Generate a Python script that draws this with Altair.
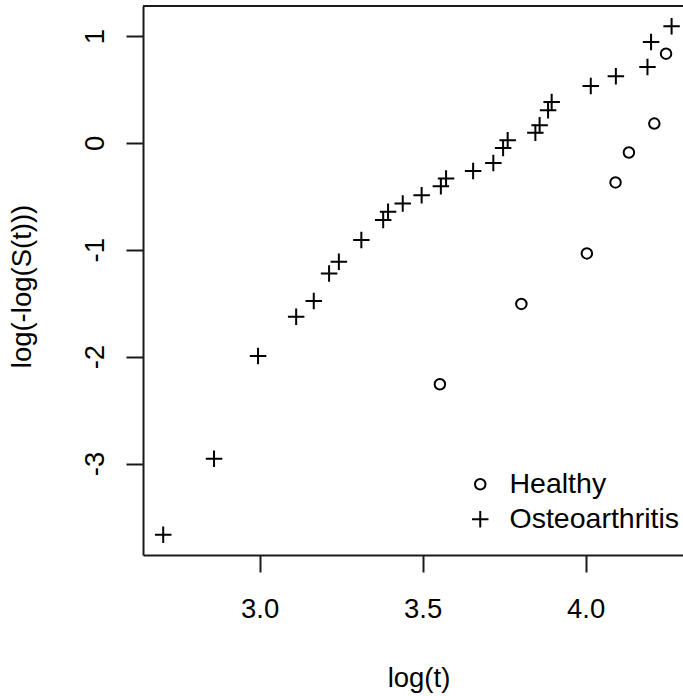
import altair as alt
import pandas as pd

# ---- data ----
groups = ["Healthy", "Osteoarthritis"]

healthy_logt = [3.553, 3.803, 4.004, 4.092, 4.133, 4.211, 4.247]
healthy_loglog = [-2.258, -1.507, -1.034, -0.370, -0.090, 0.181, 0.835]

oa_logt = [2.704, 2.860, 2.995, 3.112, 3.166, 3.213, 3.243, 3.312, 3.379,
           3.394, 3.439, 3.497, 3.556, 3.572, 3.655, 3.717, 3.747, 3.761,
           3.846, 3.859, 3.885, 3.896, 4.016, 4.093, 4.190, 4.201, 4.264]
oa_loglog = [-3.666, -2.956, -1.993, -1.626, -1.479, -1.221, -1.112, -0.909,
             -0.722, -0.645, -0.566, -0.489, -0.405, -0.333, -0.264, -0.187,
             -0.047, 0.025, 0.094, 0.166, 0.306, 0.383, 0.533, 0.623, 0.710,
             0.944, 1.091]

x_ticks = [3.0, 3.5, 4.0]
y_ticks = [-3, -2, -1, 0, 1]

df = pd.concat([
    pd.DataFrame({"logt": healthy_logt, "loglog": healthy_loglog, "group": groups[0]}),
    pd.DataFrame({"logt": oa_logt, "loglog": oa_loglog, "group": groups[1]}),
], ignore_index=True)

FONT = "Liberation Sans"
FS = 27.5
INK = "#1a1a1a"
PLUS = "M-1,0L1,0M0,-1L0,1"

x_scale = alt.Scale(domain=[2.642, 4.299], nice=False, zero=False)
y_scale = alt.Scale(domain=[-3.856, 1.281], nice=False, zero=False)

legend = alt.Legend(
    title=None, orient="none", legendX=323, legendY=464,
    labelFont=FONT, labelFontSize=28.5, labelColor="black", labelLimit=600,
    labelOffset=15, rowPadding=6, padding=0,
    symbolStrokeColor="black", symbolStrokeWidth=2, symbolFillColor="transparent",
)

points = alt.Chart(df).mark_point(
    filled=False, strokeWidth=2, opacity=1, color="black"
).encode(
    x=alt.X("logt:Q", scale=x_scale,
            axis=alt.Axis(values=x_ticks, format=".1f", title="log(t)",
                          labelBaseline="alphabetic", labelPadding=45,
                          labelOverlap=False, labelFlush=False,
                          titleX=275.5, titleY=131, titleAnchor="middle",
                          titleAlign="center", titleBaseline="alphabetic")),
    y=alt.Y("loglog:Q", scale=y_scale,
            axis=alt.Axis(values=y_ticks, title="log(-log(S(t)))",
                          labelExpr="datum.value < 0 ? '-' + format(-datum.value, 'd') : format(datum.value, 'd')",
                          labelAngle=270, labelAlign="center", labelBaseline="alphabetic",
                          labelPadding=23, labelOverlap=False, labelFlush=False,
                          titleAngle=270, titleX=-113, titleY=280,
                          titleAlign="center", titleBaseline="alphabetic")),
    shape=alt.Shape("group:N", scale=alt.Scale(domain=groups, range=["circle", PLUS]), legend=legend),
    size=alt.Size("group:N", scale=alt.Scale(domain=groups, range=[110, 272]), legend=legend),
)

top = alt.Chart(pd.DataFrame({"edge": [0]})).mark_rule(
    color=INK, strokeWidth=2
).encode(y=alt.value(0))

chart = alt.layer(points, top).properties(
    width=540, height=549,
    autosize=alt.AutoSizeParams(type="none"),
    padding={"left": 143, "top": 6, "right": 0, "bottom": 141},
    background="white",
).configure_view(stroke=None).configure_axis(
    grid=False, domainColor=INK, domainWidth=2, tickColor=INK, tickWidth=2,
    tickSize=17, labelFont=FONT, labelFontSize=FS, labelColor="black",
    titleFont=FONT, titleFontSize=FS, titleFontWeight="normal", titleColor="black",
)

chart.save("out.html", embed_options={"renderer": "svg", "actions": False})
